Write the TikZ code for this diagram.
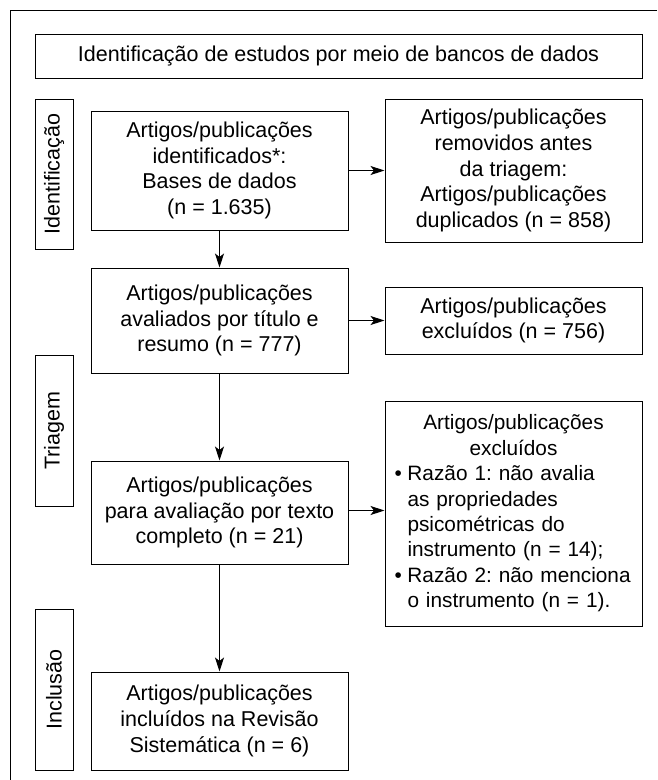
\documentclass[tikz,border=0pt]{standalone}
\usepackage{fontspec}
\setmainfont{Liberation Sans}
\frenchspacing
\usetikzlibrary{arrows.meta}
\tikzset{
  box/.style={draw, line width=1pt, inner sep=0pt, align=center,
    minimum width=257pt, font=\fontsize{21.5pt}{25.6pt}\selectfont},
  sidebox/.style={draw, line width=1pt, inner sep=0pt, rotate=90,
    minimum height=38pt, font=\fontsize{21.5pt}{25.6pt}\selectfont},
  flow/.style={line width=1pt, -{Stealth[length=14pt,width=9pt,inset=3.5pt]}}
}
\begin{document}
\begin{tikzpicture}[x=1pt,y=-1pt]
\useasboundingbox (0,0) rectangle (657,780);
% outer frame (left and top only visible)
\draw[line width=1pt] (657,10.5) -- (10,10.5) -- (10,780);

\node[box, minimum width=607pt, minimum height=44pt] (header) at (338.5,56)
  {Identificação de estudos por meio de bancos de dados};

\node[sidebox, minimum width=150pt] (side1) at (54,174) {Identificação};
\node[sidebox, minimum width=151pt] (side2) at (54,430.5) {Triagem};
\node[sidebox, minimum width=161pt] (side3) at (54,689.5) {Inclusão};

\node[box, minimum height=119pt] (box1) at (219.5,170.5)
  {Artigos/publicações\\identificados*:\\Bases de dados\\(n = 1.635)};
\node[box, minimum height=143pt] (right1) at (513.5,170.5)
  {Artigos/publicações\\removidos antes\\da triagem:\\Artigos/publicações\\duplicados (n = 858)};

\node[box, minimum height=105pt] (box2) at (219.5,320.5)
  {Artigos/publicações\\avaliados por título e\\resumo (n = 777)};
\node[box, minimum height=67pt] (right2) at (513.5,320.5)
  {Artigos/publicações\\excluídos (n = 756)};

\node[box, minimum height=103pt] (box3) at (219.5,512.5)
  {Artigos/publicações\\para avaliação por texto\\completo (n = 21)};
\node[box, minimum height=225pt, text width=238pt, align=left,
      font=\fontsize{20.8pt}{25.4pt}\selectfont] (right3) at (513.5,513.5)
  {\makebox[\linewidth]{Artigos/publicações}\\
   \makebox[\linewidth]{excluídos}\\
   \mbox{\makebox[13pt][l]{\textbullet}Razão 1: não avalia}\\
   \mbox{\hspace*{13pt}as propriedades}\\
   \mbox{\hspace*{13pt}psicométricas do}\\
   \mbox{\hspace*{13pt}instrumento (n = 14);}\\
   \mbox{\makebox[13pt][l]{\textbullet}Razão 2: não menciona}\\
   \mbox{\hspace*{13pt}o instrumento (n = 1).}};

\node[box, minimum height=98pt] (box4) at (219.5,721)
  {Artigos/publicações\\incluídos na Revisão\\Sistemática (n = 6)};

\draw[flow] (box1.east) -- (box1.east -| right1.west);
\draw[flow] (box2.east) -- (box2.east -| right2.west);
\draw[flow] ([yshift=2pt]box3.east) -- ([yshift=2pt]box3.east -| right3.west);
\draw[flow] (box1.south) -- (box2.north);
\draw[flow] (box2.south) -- (box3.north);
\draw[flow] (box3.south) -- (box4.north);
\end{tikzpicture}
\end{document}
